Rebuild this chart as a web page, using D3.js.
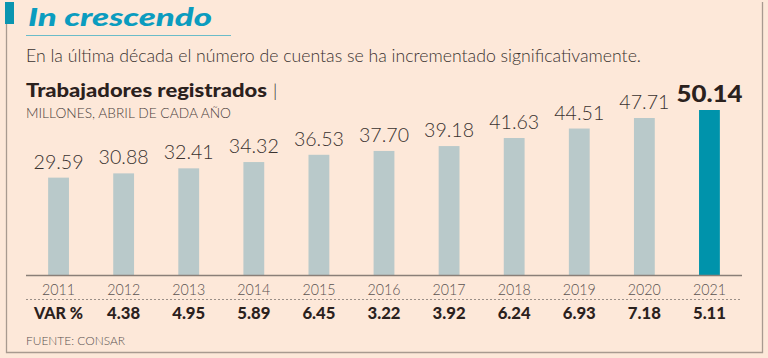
<!DOCTYPE html>
<html>
<head>
<meta charset="utf-8">
<script src="https://cdn.jsdelivr.net/npm/d3@7"></script>
<style>
  html, body { margin: 0; padding: 0; background: #fde8d9; }
  svg { display: block; }
</style>
</head>
<body>
<svg id="chart" width="768" height="358"></svg>
<script>
const years = ["2011","2012","2013","2014","2015","2016","2017","2018","2019","2020","2021"];
const values = [29.59, 30.88, 32.41, 34.32, 36.53, 37.70, 39.18, 41.63, 44.51, 47.71, 50.14];
const varPct = ["", "4.38", "4.95", "5.89", "6.45", "3.22", "3.92", "6.24", "6.93", "7.18", "5.11"];
const valueLabels = ["29.59","30.88","32.41","34.32","36.53","37.70","39.18","41.63","44.51","47.71","50.14"];

const W = 768, H = 358;
const svg = d3.select("#chart");
const bg = "#fde8d9";
const teal = "#0a95b0";
const barColor = "#b9c9ca";
const dark = "#2b211d";
const font = "Lato, 'Open Sans', sans-serif";

svg.append("rect").attr("width", W).attr("height", H).attr("fill", bg);

// frame
svg.append("path")
  .attr("d", "M6.5,2 V352.5 H762.5 V2")
  .attr("fill", "none").attr("stroke", "#a89a90").attr("stroke-width", 1.3);
svg.append("rect").attr("x", 5).attr("y", 2).attr("width", 9).attr("height", 22).attr("fill", teal);

// title
svg.append("text").attr("x", 28).attr("y", 26)
  .attr("font-family", font).attr("font-weight", 900).attr("font-style", "italic")
  .attr("font-size", 25).attr("fill", "#0b9cbf")
  .attr("textLength", 184).attr("lengthAdjust", "spacingAndGlyphs")
  .text("In crescendo");
svg.append("line").attr("x1", 26).attr("x2", 231).attr("y1", 35.5).attr("y2", 35.5)
  .attr("stroke", "#6bbcc9").attr("stroke-width", 1.2);

svg.append("text").attr("x", 26).attr("y", 62)
  .attr("font-family", font).attr("font-weight", 300).attr("font-size", 17).attr("fill", "#3a3230")
  .attr("textLength", 615).attr("lengthAdjust", "spacingAndGlyphs")
  .text("En la última década el número de cuentas se ha incrementado significativamente.");

svg.append("text").attr("x", 26).attr("y", 97)
  .attr("font-family", font).attr("font-weight", 900).attr("font-size", 18).attr("fill", dark)
  .attr("textLength", 241).attr("lengthAdjust", "spacingAndGlyphs")
  .text("Trabajadores registrados");
svg.append("text").attr("x", 273).attr("y", 97)
  .attr("font-family", font).attr("font-weight", 300).attr("font-size", 18).attr("fill", dark)
  .text("|");

svg.append("text").attr("x", 26).attr("y", 118)
  .attr("font-family", font).attr("font-weight", 300).attr("font-size", 13).attr("fill", "#4a403c")
  .attr("textLength", 205).attr("lengthAdjust", "spacingAndGlyphs")
  .text("MILLONES, ABRIL DE CADA AÑO");

// scales
const x = d3.scaleBand().domain(years).range([26, 742]).paddingInner(0.68).paddingOuter(0.34);
const baseY = 275;
const y = d3.scaleLinear().domain([0, 50.14]).range([baseY, 110]);

const data = years.map((yr, i) => ({ yr, v: values[i], label: valueLabels[i], vp: varPct[i], last: i === years.length - 1 }));

svg.selectAll("rect.bar").data(data).join("rect")
  .attr("class", "bar")
  .attr("x", d => x(d.yr)).attr("width", x.bandwidth())
  .attr("y", d => y(d.v)).attr("height", d => baseY - y(d.v))
  .attr("fill", d => d.last ? "#0093ab" : barColor);

svg.selectAll("text.val").data(data).join("text")
  .attr("class", "val")
  .attr("x", d => x(d.yr) + x.bandwidth() / 2)
  .attr("y", d => y(d.v) - (d.last ? 8 : 9))
  .attr("text-anchor", "middle")
  .attr("font-family", font)
  .attr("font-weight", d => d.last ? 900 : 300)
  .attr("font-size", d => d.last ? 23 : 19)
  .attr("fill", d => d.last ? dark : "#3a3230")
  .attr("textLength", d => d.last ? 66 : 50).attr("lengthAdjust", "spacingAndGlyphs")
  .text(d => d.label);

// axis
const axis = d3.axisBottom(x).tickSize(0).tickPadding(0);
const gAxis = svg.append("g").attr("transform", `translate(0,${baseY})`).call(axis);
gAxis.select(".domain").attr("d", "M26,0.5H742").attr("stroke", "#8a7f78").attr("stroke-width", 1.3);
gAxis.selectAll(".tick text")
  .attr("y", 20).attr("dy", 0)
  .attr("font-family", font).attr("font-weight", 300).attr("font-size", 15).attr("fill", "#5a5250")
  .attr("textLength", 33).attr("lengthAdjust", "spacingAndGlyphs");

svg.append("line").attr("x1", 26).attr("x2", 742).attr("y1", 299.5).attr("y2", 299.5)
  .attr("stroke", "#9a8f88").attr("stroke-width", 1).attr("stroke-dasharray", "2,2");

svg.append("text").attr("x", 34).attr("y", 319)
  .attr("font-family", font).attr("font-weight", 900).attr("font-size", 16).attr("fill", dark)
  .attr("textLength", 49).attr("lengthAdjust", "spacingAndGlyphs")
  .text("VAR %");

svg.selectAll("text.vp").data(data.filter(d => d.vp !== "")).join("text")
  .attr("class", "vp")
  .attr("x", d => x(d.yr) + x.bandwidth() / 2)
  .attr("y", 319)
  .attr("text-anchor", "middle")
  .attr("font-family", font).attr("font-weight", 900).attr("font-size", 16).attr("fill", dark)
  .attr("textLength", 33).attr("lengthAdjust", "spacingAndGlyphs")
  .text(d => d.vp);

svg.append("text").attr("x", 26).attr("y", 345)
  .attr("font-family", font).attr("font-weight", 300).attr("font-size", 12).attr("fill", "#5a5250")
  .attr("textLength", 99).attr("lengthAdjust", "spacingAndGlyphs")
  .text("FUENTE: CONSAR");
</script>
</body>
</html>
